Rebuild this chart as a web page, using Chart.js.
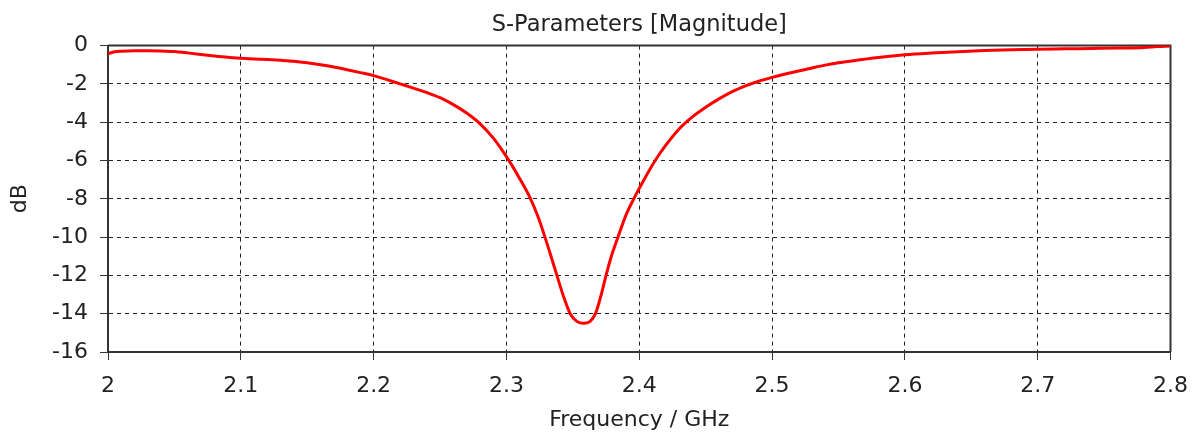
<!DOCTYPE html>
<html><head><meta charset="utf-8">
<script src="https://cdn.jsdelivr.net/npm/chart.js@4"></script>
<style>html,body{margin:0;padding:0;background:#fff;} canvas{display:block;}</style>
</head><body>
<canvas id="c" width="1201" height="439"></canvas>
<script>
const freqGHz = [2.000, 2.005, 2.010, 2.020, 2.030, 2.040, 2.050, 2.060, 2.070, 2.080, 2.090, 2.100, 2.110, 2.120, 2.130, 2.140, 2.150, 2.160, 2.170, 2.180, 2.190, 2.200, 2.210, 2.220, 2.230, 2.240, 2.250, 2.260, 2.270, 2.280, 2.290, 2.300, 2.310, 2.318, 2.324, 2.329, 2.334, 2.338, 2.343, 2.348, 2.353, 2.358, 2.363, 2.367, 2.371, 2.375, 2.379, 2.384, 2.390, 2.397, 2.404, 2.412, 2.420, 2.430, 2.440, 2.450, 2.460, 2.470, 2.480, 2.490, 2.500, 2.510, 2.520, 2.530, 2.540, 2.550, 2.560, 2.580, 2.600, 2.620, 2.640, 2.660, 2.680, 2.700, 2.720, 2.740, 2.760, 2.780, 2.790, 2.800];
const s11dB   = [-0.42, -0.32, -0.29, -0.27, -0.27, -0.28, -0.31, -0.38, -0.46, -0.54, -0.61, -0.66, -0.70, -0.73, -0.77, -0.82, -0.90, -1.00, -1.12, -1.26, -1.41, -1.57, -1.78, -2.00, -2.22, -2.45, -2.72, -3.08, -3.52, -4.07, -4.82, -5.80, -6.95, -7.98, -8.98, -10.00, -11.10, -12.00, -13.10, -14.00, -14.40, -14.50, -14.40, -14.00, -13.10, -12.00, -11.00, -10.00, -8.85, -7.85, -6.95, -6.00, -5.20, -4.35, -3.72, -3.22, -2.78, -2.40, -2.10, -1.86, -1.66, -1.48, -1.33, -1.17, -1.02, -0.90, -0.80, -0.62, -0.48, -0.39, -0.32, -0.26, -0.22, -0.19, -0.17, -0.15, -0.13, -0.10, -0.05, -0.02];
const xTickLabels = ['2', '2.1', '2.2', '2.3', '2.4', '2.5', '2.6', '2.7', '2.8'];
const yTickLabels = ['-16', '-14', '-12', '-10', '-8', '-6', '-4', '-2', '0'];
const chartTitle = 'S-Parameters [Magnitude]';
const xTitle = 'Frequency / GHz';
const yTitle = 'dB';

const points = freqGHz.map((f, i) => ({x: f, y: s11dB[i]}));
const FONT = {family: 'DejaVu Sans', size: 22, weight: 'normal'};
const TXT = '#222';
const GRID = '#222';

const frame = {
  id: 'frame',
  beforeDatasetsDraw(chart) {
    const {ctx, chartArea: a} = chart;
    ctx.save();
    ctx.strokeStyle = '#333';
    ctx.lineWidth = 2;
    ctx.beginPath();
    ctx.moveTo(a.left, a.top);
    ctx.lineTo(a.right, a.top);
    ctx.lineTo(a.right, a.bottom);
    ctx.stroke();
    ctx.restore();
  }
};

new Chart(document.getElementById('c'), {
  type: 'line',
  data: {datasets: [{data: points, borderColor: '#ff0000', borderWidth: 3, pointRadius: 0, cubicInterpolationMode: 'monotone', fill: false}]},
  options: {
    responsive: false, animation: false, devicePixelRatio: 1,
    layout: {padding: {left: 0, right: 27, top: 0, bottom: 0}},
    plugins: {
      legend: {display: false}, tooltip: {enabled: false},
      title: {display: true, text: chartTitle, fullSize: false, color: TXT, font: {family: 'DejaVu Sans', size: 22.5, weight: 'normal'}, padding: {top: 12, bottom: 6.6}}
    },
    scales: {
      x: {
        type: 'linear', min: 2, max: 2.8,
        afterFit(s) { s.height = 87; },
        ticks: {stepSize: 0.1, padding: 13, color: TXT, font: FONT, maxRotation: 0, autoSkip: false, callback: (v, i) => xTickLabels[i]},
        grid: {color: GRID, lineWidth: 1, tickLength: 8, tickColor: '#333', tickBorderDash: []},
        border: {display: true, color: '#333', width: 2, dash: [4, 4]},
        title: {display: true, text: xTitle, color: TXT, font: FONT, padding: {top: 0, bottom: 6}}
      },
      y: {
        type: 'linear', min: -16, max: 0,
        afterFit(s) { s.width = 108; },
        ticks: {stepSize: 2, padding: 12, color: TXT, font: FONT, callback: (v, i) => yTickLabels[i]},
        grid: {color: GRID, lineWidth: 1, tickLength: 8, tickColor: '#333', tickBorderDash: []},
        border: {display: true, color: '#333', width: 2, dash: [4, 4]},
        title: {display: true, text: yTitle, color: TXT, font: FONT, padding: {top: 7, bottom: 0}}
      }
    }
  },
  plugins: [frame]
});
</script>
</body></html>
